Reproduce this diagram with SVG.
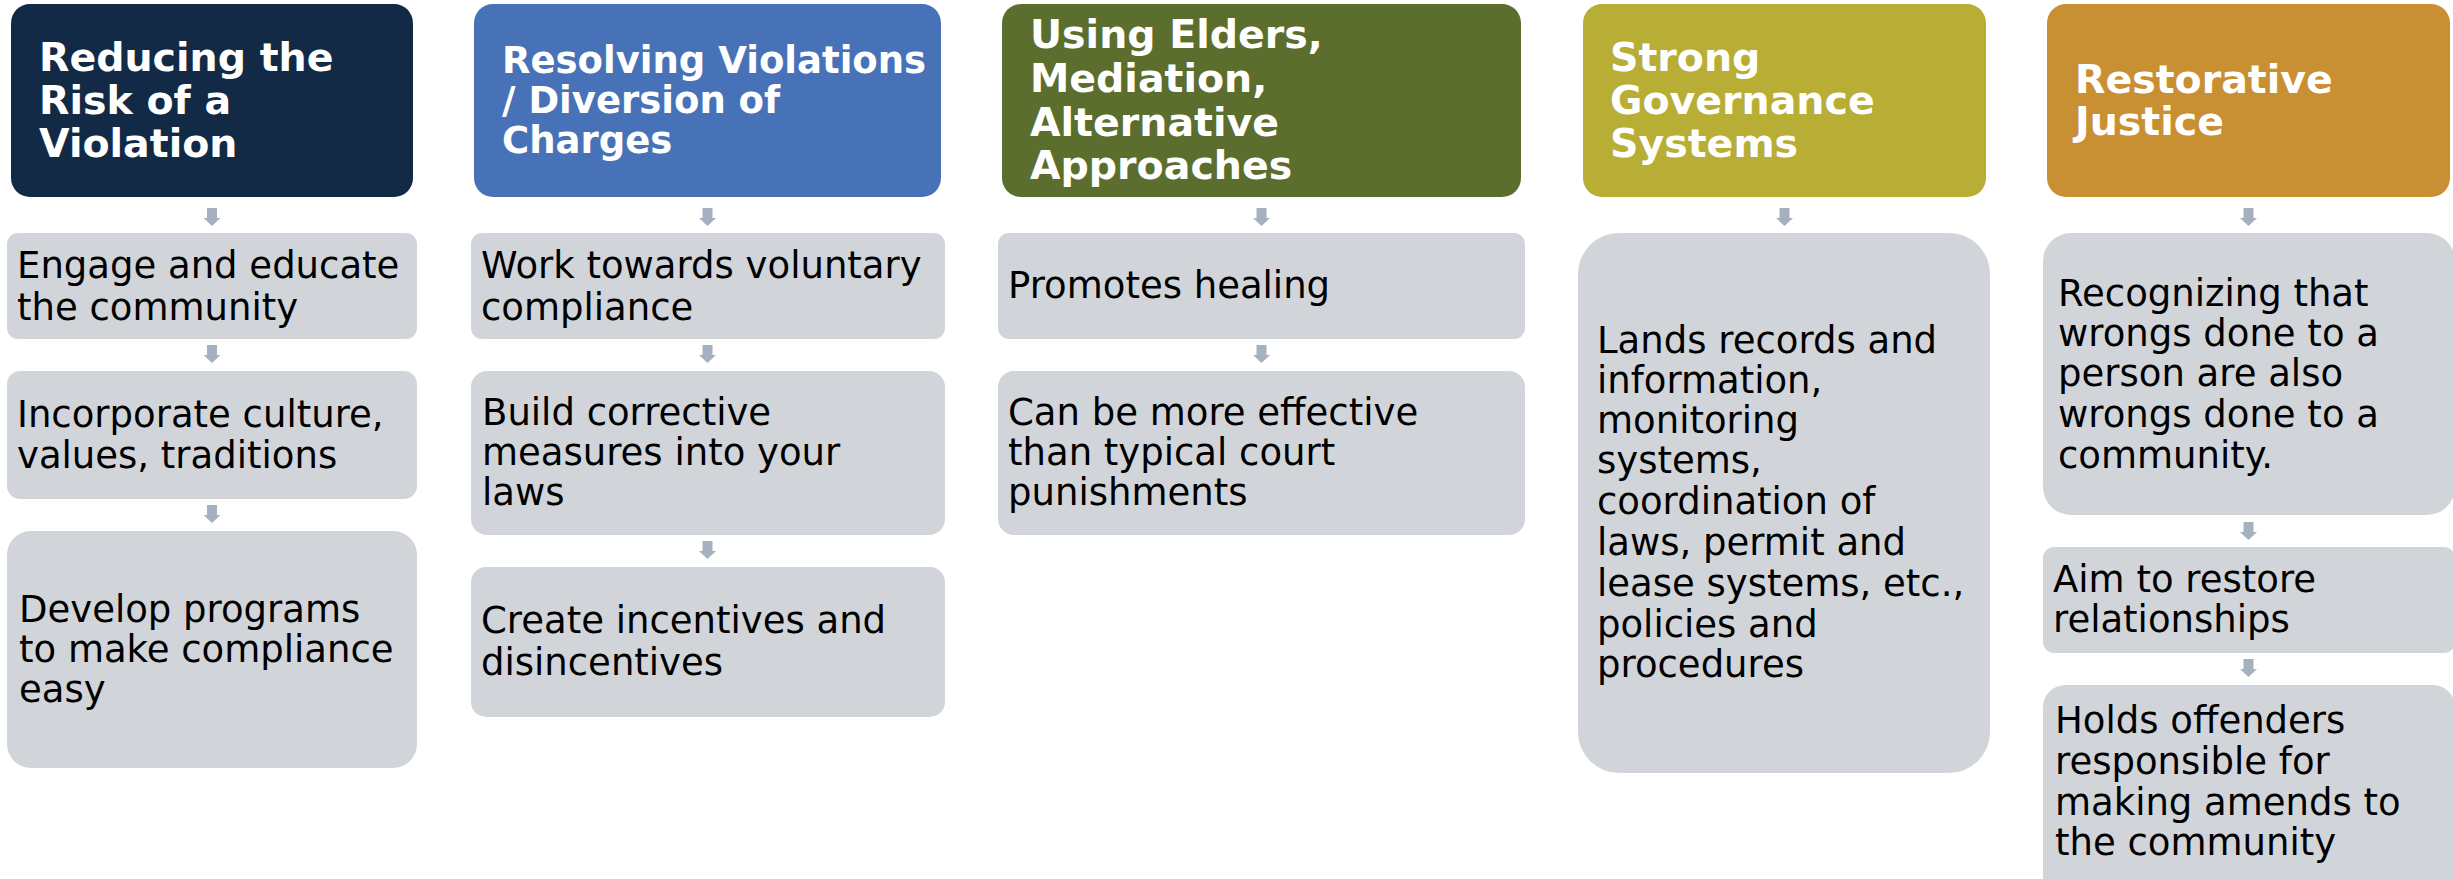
<svg xmlns="http://www.w3.org/2000/svg" xmlns:xlink="http://www.w3.org/1999/xlink" width="2453" height="879" viewBox="0 0 2453 879">
  <style>
    .hd { font-family: "DejaVu Sans", Verdana, sans-serif; font-weight: bold; font-size: 39.5px; fill: #ffffff; }
    .hd2 { font-family: "DejaVu Sans", Verdana, sans-serif; font-weight: bold; font-size: 37px; fill: #ffffff; }
    .tx { font-family: "DejaVu Sans", Verdana, sans-serif; font-size: 37px; fill: #000000; }
    .box { fill: #D1D5DA; }
    .arr { fill: #A6B1BF; }
  </style>
  <defs>
    <path id="arrow" d="M -5 0 h 10 v 10 h 3.5 l -8.5 8 l -8.5 -8 h 3.5 z"/>
  </defs>
  <rect width="2453" height="879" fill="#ffffff"/>

  <!-- Column 1 -->
  <g id="h1">
    <rect x="11" y="4" width="402" height="193" rx="19" fill="#132A47"/>
    <text class="hd" x="39"><tspan x="39" y="71">Reducing the</tspan><tspan x="39" y="114">Risk of a</tspan><tspan x="39" y="157">Violation</tspan></text>
  </g>
  <g id="c1a">
    <rect class="box" x="7" y="233" width="410" height="106" rx="11"/>
    <text class="tx"><tspan x="17" y="278">Engage and educate</tspan><tspan x="17" y="320">the community</tspan></text>
  </g>
  <g id="c1b">
    <rect class="box" x="7" y="371" width="410" height="128" rx="13"/>
    <text class="tx"><tspan x="17" y="427">Incorporate culture,</tspan><tspan x="17" y="468">values, traditions</tspan></text>
  </g>
  <g id="c1c">
    <rect class="box" x="7" y="531" width="410" height="237" rx="24"/>
    <text class="tx"><tspan x="19" y="622">Develop programs</tspan><tspan x="19" y="662">to make compliance</tspan><tspan x="19" y="702">easy</tspan></text>
  </g>

  <!-- Column 2 -->
  <g id="h2">
    <rect x="474" y="4" width="467" height="193" rx="19" fill="#4872B8"/>
    <text class="hd2"><tspan x="502" y="73">Resolving Violations</tspan><tspan x="502" y="113">/ Diversion of</tspan><tspan x="502" y="153">Charges</tspan></text>
  </g>
  <g id="c2a">
    <rect class="box" x="471" y="233" width="474" height="106" rx="11"/>
    <text class="tx"><tspan x="481" y="278">Work towards voluntary</tspan><tspan x="481" y="320">compliance</tspan></text>
  </g>
  <g id="c2b">
    <rect class="box" x="471" y="371" width="474" height="164" rx="16"/>
    <text class="tx"><tspan x="482" y="425">Build corrective</tspan><tspan x="482" y="465">measures into your</tspan><tspan x="482" y="505">laws</tspan></text>
  </g>
  <g id="c2c">
    <rect class="box" x="471" y="567" width="474" height="150" rx="15"/>
    <text class="tx"><tspan x="481" y="633">Create incentives and</tspan><tspan x="481" y="675">disincentives</tspan></text>
  </g>

  <!-- Column 3 -->
  <g id="h3">
    <rect x="1002" y="4" width="519" height="193" rx="19" fill="#5C6E2E"/>
    <text class="hd"><tspan x="1030" y="48">Using Elders,</tspan><tspan x="1030" y="92">Mediation,</tspan><tspan x="1030" y="136">Alternative</tspan><tspan x="1030" y="179">Approaches</tspan></text>
  </g>
  <g id="c3a">
    <rect class="box" x="998" y="233" width="527" height="106" rx="11"/>
    <text class="tx"><tspan x="1008" y="298">Promotes healing</tspan></text>
  </g>
  <g id="c3b">
    <rect class="box" x="998" y="371" width="527" height="164" rx="16"/>
    <text class="tx"><tspan x="1008" y="425">Can be more effective</tspan><tspan x="1008" y="465">than typical court</tspan><tspan x="1008" y="505">punishments</tspan></text>
  </g>

  <!-- Column 4 -->
  <g id="h4">
    <rect x="1583" y="4" width="403" height="193" rx="19" fill="#B8AD35"/>
    <text class="hd"><tspan x="1610" y="71">Strong</tspan><tspan x="1610" y="114">Governance</tspan><tspan x="1610" y="157">Systems</tspan></text>
  </g>
  <g id="c4a">
    <rect class="box" x="1578" y="233" width="412" height="540" rx="41"/>
    <text class="tx"><tspan x="1597" y="353">Lands records and</tspan><tspan x="1597" y="393">information,</tspan><tspan x="1597" y="433">monitoring</tspan><tspan x="1597" y="473">systems,</tspan><tspan x="1597" y="514">coordination of</tspan><tspan x="1597" y="555">laws, permit and</tspan><tspan x="1597" y="596">lease systems, etc.,</tspan><tspan x="1597" y="637">policies and</tspan><tspan x="1597" y="677">procedures</tspan></text>
  </g>

  <!-- Column 5 -->
  <g id="h5">
    <rect x="2047" y="4" width="403" height="193" rx="19" fill="#C98F33"/>
    <text class="hd"><tspan x="2075" y="93">Restorative</tspan><tspan x="2075" y="135">Justice</tspan></text>
  </g>
  <g id="c5a">
    <rect class="box" x="2043" y="233" width="412" height="282" rx="28"/>
    <text class="tx"><tspan x="2058" y="306">Recognizing that</tspan><tspan x="2058" y="346">wrongs done to a</tspan><tspan x="2058" y="386">person are also</tspan><tspan x="2058" y="427">wrongs done to a</tspan><tspan x="2058" y="468">community.</tspan></text>
  </g>
  <g id="c5b">
    <rect class="box" x="2043" y="547" width="412" height="106" rx="11"/>
    <text class="tx"><tspan x="2053" y="592">Aim to restore</tspan><tspan x="2053" y="632">relationships</tspan></text>
  </g>
  <g id="c5c">
    <rect class="box" x="2043" y="685" width="412" height="215" rx="22"/>
    <text class="tx"><tspan x="2055" y="733">Holds offenders</tspan><tspan x="2055" y="774">responsible for</tspan><tspan x="2055" y="815">making amends to</tspan><tspan x="2055" y="855">the community</tspan></text>
  </g>

  <!-- Connectors -->
  <g id="connectors" class="arr">
    <use xlink:href="#arrow" href="#arrow" x="212" y="208"/>
    <use xlink:href="#arrow" href="#arrow" x="212" y="345"/>
    <use xlink:href="#arrow" href="#arrow" x="212" y="505"/>
    <use xlink:href="#arrow" href="#arrow" x="707.5" y="208"/>
    <use xlink:href="#arrow" href="#arrow" x="707.5" y="345"/>
    <use xlink:href="#arrow" href="#arrow" x="707.5" y="541"/>
    <use xlink:href="#arrow" href="#arrow" x="1261.5" y="208"/>
    <use xlink:href="#arrow" href="#arrow" x="1261.5" y="345"/>
    <use xlink:href="#arrow" href="#arrow" x="1784.5" y="208"/>
    <use xlink:href="#arrow" href="#arrow" x="2248.5" y="208"/>
    <use xlink:href="#arrow" href="#arrow" x="2248.5" y="522"/>
    <use xlink:href="#arrow" href="#arrow" x="2248.5" y="659"/>
  </g>
</svg>
